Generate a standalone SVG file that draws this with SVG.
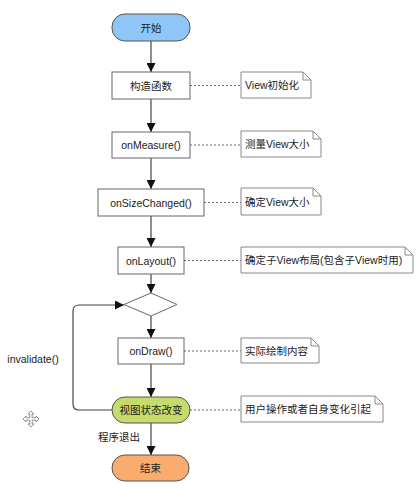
<svg xmlns="http://www.w3.org/2000/svg" width="420" height="491" viewBox="0 0 420 491">
<style>
text{font-family:"Liberation Sans","Noto Sans CJK SC",sans-serif;font-size:10.5px;fill:#222}
.c{text-anchor:middle}
.box{fill:#fff;stroke:#666;stroke-width:1}
.note{fill:#fff;stroke:#888;stroke-width:1}
.flow{stroke:#444;stroke-width:1.2;fill:none}
.dash{stroke:#666;stroke-width:1;stroke-dasharray:2,2;fill:none}
</style>
<defs>
<marker id="ah" viewBox="0 0 10 10" refX="10" refY="5" markerWidth="9" markerHeight="9" markerUnits="userSpaceOnUse" orient="auto">
<path d="M0,0 L10,5 L0,10 z" fill="#111"/>
</marker>
</defs>
<rect width="420" height="491" fill="#fff"/>
<g id="connectors">
<path class="flow" marker-end="url(#ah)" d="M151,41 V72"/>
<path class="flow" marker-end="url(#ah)" d="M151,99 V132"/>
<path class="flow" marker-end="url(#ah)" d="M151,158 V189"/>
<path class="flow" marker-end="url(#ah)" d="M151,216 V247"/>
<path class="flow" marker-end="url(#ah)" d="M151,274 V293"/>
<path class="flow" marker-end="url(#ah)" d="M151,316 V338"/>
<path class="flow" marker-end="url(#ah)" d="M151,364 V397"/>
<path class="flow" marker-end="url(#ah)" d="M151,423 V455"/>
<path class="flow" marker-end="url(#ah)" d="M112,410 H79 Q73,410 73,404 V311 Q73,305 79,305 H124"/>
<path class="dash" d="M190,85.5 H241"/>
<path class="dash" d="M190,145 H241"/>
<path class="dash" d="M204,202.5 H241"/>
<path class="dash" d="M184,260.5 H241"/>
<path class="dash" d="M184,351 H241"/>
<path class="dash" d="M190,410 H241"/>
<text x="33" y="363" class="c">invalidate()</text>
<text x="119" y="441" class="c">程序退出</text>
</g>
<g id="start">
<rect x="112" y="14" width="78" height="27" rx="13" fill="#90c6f7" stroke="#555"/>
<text x="151" y="31.5" class="c">开始</text>
</g>
<g id="constructor">
<rect class="box" x="112" y="72" width="78" height="27"/>
<text x="151" y="89.5" class="c">构造函数</text>
</g>
<g id="onMeasure">
<rect class="box" x="112" y="132" width="78" height="26"/>
<text x="151" y="149" class="c">onMeasure()</text>
</g>
<g id="onSizeChanged">
<rect class="box" x="98" y="189" width="106" height="27"/>
<text x="151" y="206.5" class="c">onSizeChanged()</text>
</g>
<g id="onLayout">
<rect class="box" x="118" y="247" width="66" height="27"/>
<text x="151" y="264.5" class="c">onLayout()</text>
</g>
<g id="decision">
<polygon class="box" points="151,293 177,304.5 151,316 124,304.5"/>
</g>
<g id="onDraw">
<rect class="box" x="118" y="338" width="66" height="26"/>
<text x="151" y="355" class="c">onDraw()</text>
</g>
<g id="stateChange">
<rect x="112" y="397" width="78" height="26" rx="13" fill="#c6dc6a" stroke="#555"/>
<text x="151" y="414" class="c">视图状态改变</text>
</g>
<g id="end">
<rect x="112" y="455" width="77" height="26" rx="13" fill="#f9ac6e" stroke="#555"/>
<text x="150.5" y="472" class="c">结束</text>
</g>
<g id="note1">
<path class="note" d="M241,72 H303 L311,80 V98 H241 Z M303,72 V80 H311"/>
<text x="245" y="89">View初始化</text>
</g>
<g id="note2">
<path class="note" d="M241,131 H313 L321,139 V157 H241 Z M313,131 V139 H321"/>
<text x="245" y="148">测量View大小</text>
</g>
<g id="note3">
<path class="note" d="M241,188 H313 L321,196 V215 H241 Z M313,188 V196 H321"/>
<text x="245" y="205.5">确定View大小</text>
</g>
<g id="note4">
<path class="note" d="M241,247 H405 L413,255 V273 H241 Z M405,247 V255 H413"/>
<text x="245" y="264">确定子View布局(包含子View时用)</text>
</g>
<g id="note5">
<path class="note" d="M241,338 H311 L319,346 V363 H241 Z M311,338 V346 H319"/>
<text x="245" y="354.5">实际绘制内容</text>
</g>
<g id="note6">
<path class="note" d="M241,396 H375 L383,404 V422 H241 Z M375,396 V404 H383"/>
<text x="245" y="413">用户操作或者自身变化引起</text>
</g>
<g id="moveIcon" fill="#fff" stroke="#777" stroke-width="0.8">
<path d="M31,411 L34,414 H32.2 V417.8 H36 V416 L39,419 L36,422 V420.2 H32.2 V424 H34 L31,427 L28,424 H29.8 V420.2 H26 V422 L23,419 L26,416 V417.8 H29.8 V414 H28 Z"/>
</g>
</svg>
